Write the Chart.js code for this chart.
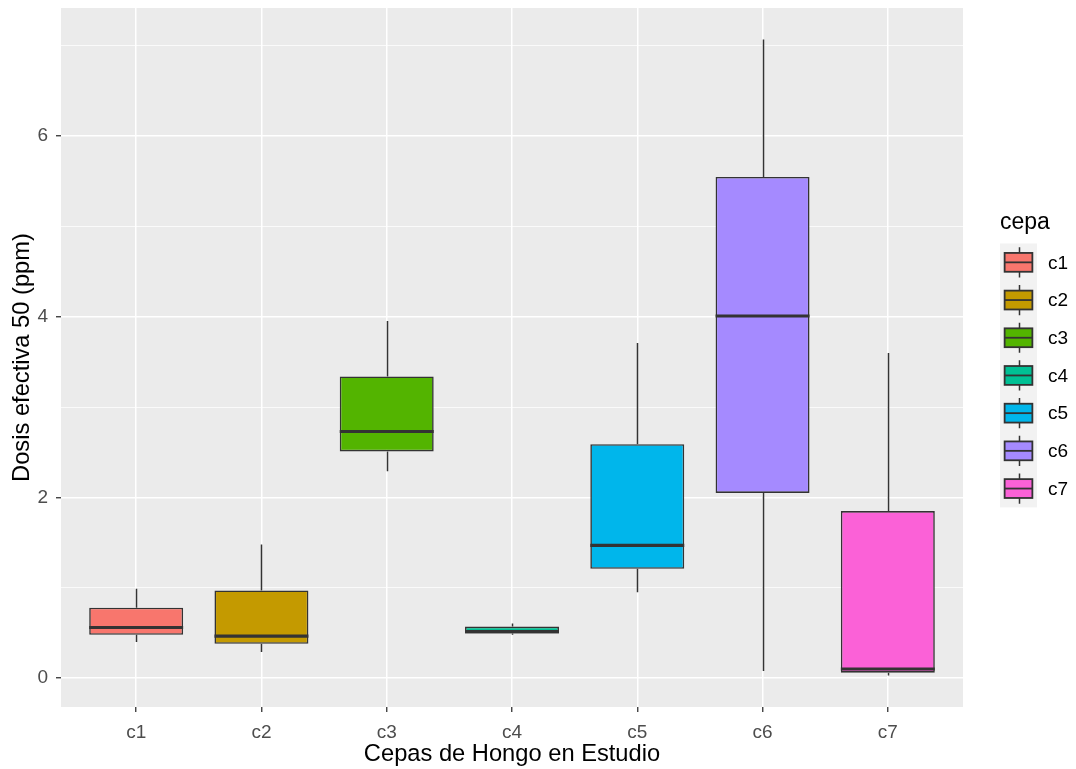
<!DOCTYPE html>
<html>
<head>
<meta charset="utf-8">
<script src="https://cdn.jsdelivr.net/npm/chart.js@4/dist/chart.umd.min.js"></script>
<style>
  html, body { margin: 0; padding: 0; background: #ffffff; }
  #wrap { width: 1076px; height: 769px; }
</style>
</head>
<body>
<div id="wrap"><canvas id="chart" width="1076" height="769"></canvas></div>
<script>
// Strains and their five-number summaries of ED50 (ppm)
const categories   = ['c1', 'c2', 'c3', 'c4', 'c5', 'c6', 'c7'];
const lowerWhisker = [0.40, 0.29, 2.29, 0.48, 0.95, 0.08, 0.03];
const lowerQuart   = [0.48, 0.38, 2.51, 0.495, 1.21, 2.05, 0.06];
const medians      = [0.56, 0.465, 2.73, 0.515, 1.47, 4.01, 0.10];
const upperQuart   = [0.78, 0.97, 3.34, 0.57, 2.59, 5.55, 1.85];
const upperWhisker = [0.99, 1.48, 3.955, 0.605, 3.71, 7.07, 3.60];
const fills        = ['#F8766D', '#C49A00', '#53B400', '#00C094', '#00B6EB', '#A58AFF', '#FB61D7'];
const yLabelled    = [0, 2, 4, 6];
const yMinor       = [1, 3, 5, 7];

const FONT = "'Liberation Sans', Arial, Helvetica, sans-serif";
const INK = '#333333';

// grey panel behind the grid
const panelBg = {
  id: 'panelBg',
  beforeDraw(chart) {
    const { ctx, chartArea: a } = chart;
    ctx.save();
    ctx.fillStyle = '#EBEBEB';
    ctx.fillRect(a.left, a.top, a.right - a.left, a.bottom - a.top);
    ctx.restore();
  }
};

// whiskers under the boxes, medians on top
const boxParts = {
  id: 'boxParts',
  beforeDatasetsDraw(chart) {
    const { ctx, scales: { x, y } } = chart;
    ctx.save();
    ctx.strokeStyle = INK;
    ctx.lineWidth = 1.5;
    categories.forEach((c, i) => {
      const px = Math.round(x.getPixelForValue(i + 1)) + 0.5;
      ctx.beginPath();
      ctx.moveTo(px, y.getPixelForValue(upperQuart[i]));
      ctx.lineTo(px, y.getPixelForValue(upperWhisker[i]));
      ctx.moveTo(px, y.getPixelForValue(lowerQuart[i]));
      ctx.lineTo(px, y.getPixelForValue(lowerWhisker[i]));
      ctx.stroke();
    });
    ctx.restore();
  },
  afterDatasetsDraw(chart) {
    const { ctx, scales: { y } } = chart;
    const meta = chart.getDatasetMeta(0);
    ctx.save();
    ctx.strokeStyle = INK;
    ctx.lineWidth = 3.1;
    meta.data.forEach((bar, i) => {
      const py = y.getPixelForValue(medians[i]);
      ctx.beginPath();
      ctx.moveTo(bar.x - bar.width / 2, py);
      ctx.lineTo(bar.x + bar.width / 2, py);
      ctx.stroke();
    });
    ctx.restore();
  }
};

// legend with boxplot keys
const boxLegend = {
  id: 'boxLegend',
  afterDraw(chart) {
    const { ctx } = chart;
    const left = 1000, top = 243.5, key = 37.7, kw = 37;
    ctx.save();
    ctx.fillStyle = '#000000';
    ctx.font = `23px ${FONT}`;
    ctx.textAlign = 'left';
    ctx.textBaseline = 'middle';
    ctx.fillText('cepa', left, 223);
    ctx.fillStyle = '#F2F2F2';
    ctx.fillRect(left, top, kw, key * categories.length);
    categories.forEach((c, i) => {
      const t = top + i * key;
      const cx = Math.round(left + kw / 2) + 0.5;
      ctx.strokeStyle = INK;
      ctx.lineWidth = 1.5;
      ctx.beginPath();
      ctx.moveTo(cx, t + key * 0.1);
      ctx.lineTo(cx, t + key * 0.25);
      ctx.moveTo(cx, t + key * 0.75);
      ctx.lineTo(cx, t + key * 0.9);
      ctx.stroke();
      const bx = left + kw * 0.125, bw = kw * 0.75, by = t + key * 0.25, bh = key * 0.5;
      ctx.fillStyle = fills[i];
      ctx.fillRect(bx, by, bw, bh);
      ctx.lineWidth = 1.8;
      ctx.strokeRect(bx, by, bw, bh);
      ctx.beginPath();
      ctx.moveTo(bx, t + key / 2);
      ctx.lineTo(bx + bw, t + key / 2);
      ctx.stroke();
      ctx.fillStyle = '#000000';
      ctx.font = `19px ${FONT}`;
      ctx.fillText(c, 1048, t + key / 2 + 1);
    });
    ctx.restore();
  }
};

new Chart(document.getElementById('chart'), {
  type: 'bar',
  data: {
    datasets: [{
      label: 'cepa',
      data: categories.map((c, i) => ({ x: i + 1, y: [lowerQuart[i], upperQuart[i]] })),
      backgroundColor: fills,
      borderColor: INK,
      borderWidth: 1.6,
      borderSkipped: false,
      barPercentage: 0.75,
      categoryPercentage: 1.0
    }]
  },
  options: {
    responsive: false,
    animation: false,
    devicePixelRatio: 1,
    layout: { padding: { left: 0, right: 113, top: 8, bottom: 0 } },
    plugins: {
      legend: { display: false },
      tooltip: { enabled: false }
    },
    scales: {
      x: {
        type: 'linear',
        min: 0.4,
        max: 7.6,
        offset: false,
        afterBuildTicks(scale) {
          scale.ticks = categories.map((c, i) => ({ value: i + 1 }));
        },
        afterFit(scale) {
          scale.height = 62;
          scale.paddingLeft = 0;
          scale.paddingRight = 0;
        },
        border: { display: false },
        grid: {
          offset: false,
          color: '#FFFFFF',
          lineWidth: 1.5,
          drawTicks: true,
          tickLength: 5,
          tickColor: INK,
          tickWidth: 1.3
        },
        ticks: {
          padding: 9,
          color: '#4D4D4D',
          font: { family: FONT, size: 19 },
          maxRotation: 0,
          callback: (v) => categories[Math.round(v) - 1]
        },
        title: {
          display: true,
          text: 'Cepas de Hongo en Estudio',
          color: '#000000',
          font: { family: FONT, size: 23.7 },
          padding: { top: 0, bottom: 0 }
        }
      },
      y: {
        type: 'linear',
        min: -0.32,
        max: 7.42,
        afterBuildTicks(scale) {
          scale.ticks = [...yLabelled, ...yMinor].sort((a, b) => a - b).map(v => ({ value: v }));
        },
        afterFit(scale) {
          scale.width = 61;
          scale.paddingTop = 0;
          scale.paddingBottom = 0;
        },
        border: { display: false },
        grid: {
          color: '#FFFFFF',
          lineWidth: (ctx) => yLabelled.includes(ctx.tick.value) ? 1.5 : 0.75,
          drawTicks: true,
          tickLength: 5,
          tickColor: (ctx) => yLabelled.includes(ctx.tick.value) ? INK : 'rgba(0,0,0,0)',
          tickWidth: 1.3
        },
        ticks: {
          padding: 8,
          color: '#4D4D4D',
          font: { family: FONT, size: 19 },
          callback: (v) => yLabelled.includes(v) ? String(v) : ''
        },
        title: {
          display: true,
          text: 'Dosis efectiva 50 (ppm)',
          color: '#000000',
          font: { family: FONT, size: 23.7 },
          padding: { top: 8, bottom: 0 }
        }
      }
    }
  },
  plugins: [panelBg, boxParts, boxLegend]
});
</script>
</body>
</html>
